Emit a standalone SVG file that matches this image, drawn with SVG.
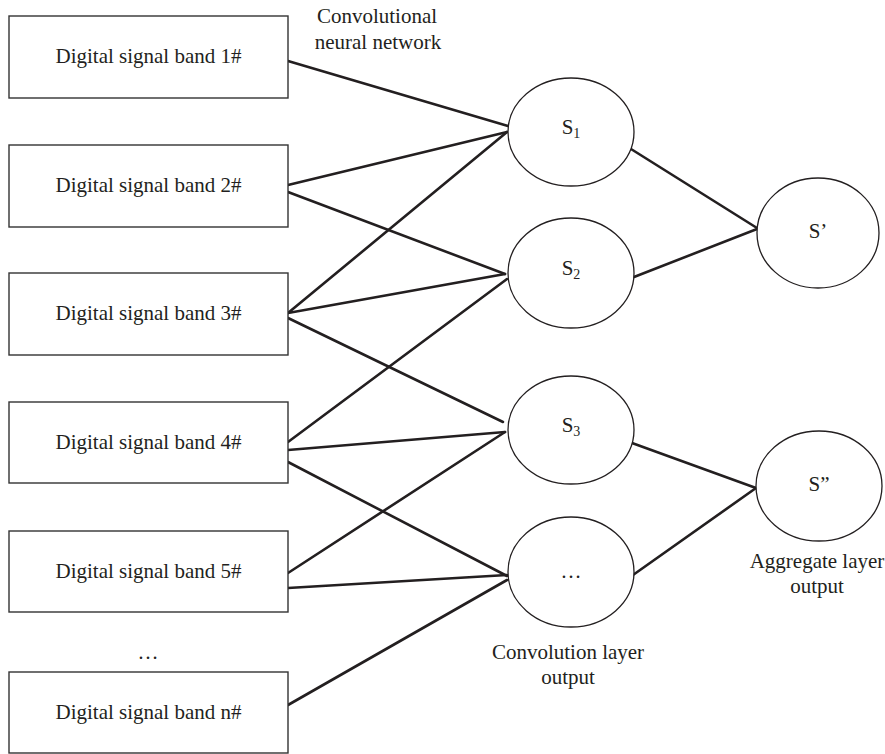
<svg xmlns="http://www.w3.org/2000/svg" width="885" height="754" viewBox="0 0 885 754">
<style>
.box{fill:#fff;stroke:#333;stroke-width:1.4}
.node{fill:#fff;stroke:#231f20;stroke-width:1.3}
.t{font-family:"Liberation Serif","Times New Roman",serif;font-size:21px;fill:#231f20;text-anchor:middle}
.sub{font-size:14px}
.edge{stroke:#231f20;stroke-width:2.6;fill:none;stroke-linecap:round}
</style>
<rect width="885" height="754" fill="#fff"/>
<g id="connectors">
<line class="edge" x1="288" y1="61" x2="508" y2="126"/>
<line class="edge" x1="288" y1="185" x2="507" y2="132"/>
<line class="edge" x1="288" y1="192" x2="505" y2="274"/>
<line class="edge" x1="288" y1="313" x2="507" y2="132"/>
<line class="edge" x1="288" y1="313" x2="505" y2="274"/>
<line class="edge" x1="288" y1="318" x2="503" y2="422"/>
<line class="edge" x1="288" y1="442" x2="507" y2="279"/>
<line class="edge" x1="288" y1="450" x2="505" y2="432"/>
<line class="edge" x1="288" y1="462" x2="507" y2="576"/>
<line class="edge" x1="288" y1="573" x2="505" y2="432"/>
<line class="edge" x1="288" y1="588" x2="507" y2="575"/>
<line class="edge" x1="288" y1="705" x2="507" y2="580"/>
<line class="edge" x1="631" y1="149" x2="757" y2="228"/>
<line class="edge" x1="634" y1="277" x2="757" y2="229"/>
<line class="edge" x1="632" y1="443" x2="756" y2="488"/>
<line class="edge" x1="633" y1="575" x2="756" y2="488"/>
</g>
<g id="band1"><rect class="box" x="9" y="16" width="279" height="82"/><text class="t" x="148.5" y="63">Digital signal band 1#</text></g>
<g id="band2"><rect class="box" x="9" y="145" width="279" height="82"/><text class="t" x="148.5" y="192">Digital signal band 2#</text></g>
<g id="band3"><rect class="box" x="9" y="273" width="279" height="82"/><text class="t" x="148.5" y="320">Digital signal band 3#</text></g>
<g id="band4"><rect class="box" x="9" y="402" width="279" height="81"/><text class="t" x="148.5" y="449">Digital signal band 4#</text></g>
<g id="band5"><rect class="box" x="9" y="531" width="279" height="81"/><text class="t" x="148.5" y="578">Digital signal band 5#</text></g>
<g id="ellipsis-bands"><text class="t" x="148" y="659">…</text></g>
<g id="bandn"><rect class="box" x="9" y="672" width="279" height="81"/><text class="t" x="148.5" y="719">Digital signal band n#</text></g>
<g id="s1"><ellipse class="node" cx="571" cy="132" rx="63" ry="54"/><text class="t" x="571" y="134">S<tspan class="sub" dy="4">1</tspan></text></g>
<g id="s2"><ellipse class="node" cx="571" cy="273" rx="63" ry="55"/><text class="t" x="571" y="275">S<tspan class="sub" dy="4">2</tspan></text></g>
<g id="s3"><ellipse class="node" cx="571" cy="430" rx="63" ry="54"/><text class="t" x="571" y="432">S<tspan class="sub" dy="4">3</tspan></text></g>
<g id="sdots"><ellipse class="node" cx="571" cy="572" rx="63" ry="55"/><text class="t" x="571" y="578">…</text></g>
<g id="sp"><ellipse class="node" cx="818" cy="233" rx="61" ry="55"/><text class="t" x="818" y="238">S’</text></g>
<g id="spp"><ellipse class="node" cx="819" cy="486" rx="63" ry="55"/><text class="t" x="819" y="491">S”</text></g>
<g id="labels">
<text class="t" x="377" y="23">Convolutional</text>
<text class="t" x="378" y="49">neural network</text>
<text class="t" x="568" y="659">Convolution layer</text>
<text class="t" x="568" y="684">output</text>
<text class="t" x="817" y="568">Aggregate layer</text>
<text class="t" x="817" y="593">output</text>
</g>
</svg>
